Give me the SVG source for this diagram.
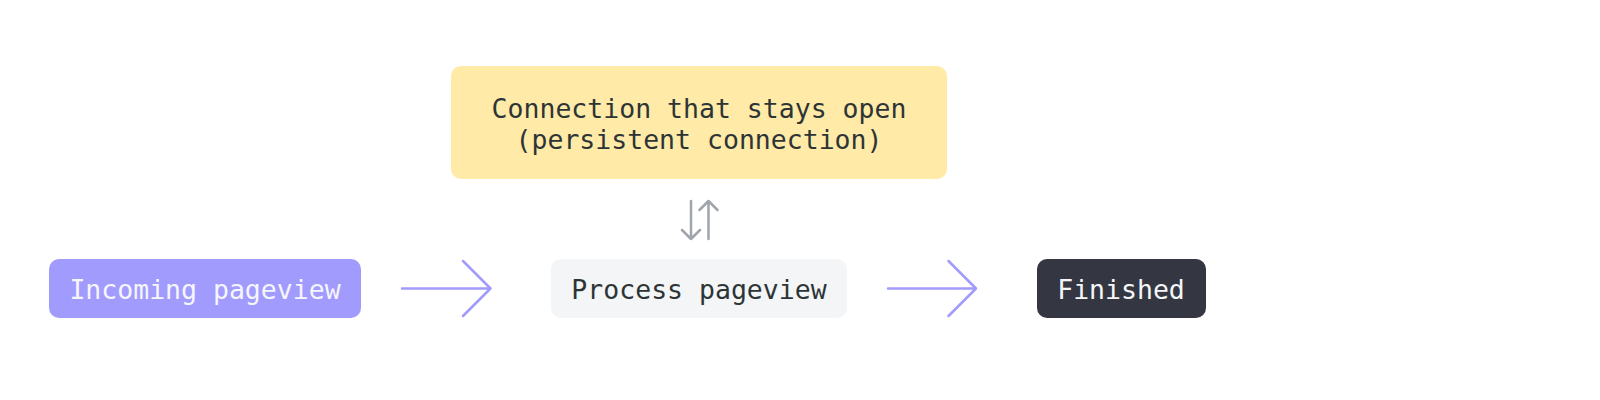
<svg xmlns="http://www.w3.org/2000/svg" width="1600" height="400" viewBox="0 0 1600 400">
<defs>
<style>
.lbl{font-family:"DejaVu Sans Mono","Liberation Mono",monospace;font-size:26.5px;text-anchor:middle}
.dark{fill:#2d3436}
.light{fill:#f5f6fa}
.flow{fill:none;stroke:#a29bfe;stroke-width:2.5;stroke-linecap:round;stroke-linejoin:round}
.bi{fill:none;stroke:#a0a4ab;stroke-width:2.5;stroke-linecap:round;stroke-linejoin:round}
</style>
</defs>
<rect width="1600" height="400" fill="#ffffff"/>
<g id="node-connection">
<rect x="451" y="66" width="496" height="113" rx="10" fill="#ffeaa7"/>
<text class="lbl dark" x="699" y="118">Connection that stays open</text>
<text class="lbl dark" x="699" y="149">(persistent connection)</text>
</g>
<g id="node-incoming">
<rect x="49" y="259" width="312" height="59" rx="10" fill="#a29bfe"/>
<text class="lbl light" x="205" y="299">Incoming pageview</text>
</g>
<g id="node-process">
<rect x="551" y="259" width="296" height="59" rx="10" fill="#f4f5f7"/>
<text class="lbl dark" x="699" y="299">Process pageview</text>
</g>
<g id="node-finished">
<rect x="1037" y="259" width="169" height="59" rx="10" fill="#343741"/>
<text class="lbl light" x="1121" y="299">Finished</text>
</g>
<g id="connectors">
<path class="flow" d="M402 288.5 H490 M463 261 L490.5 288.5 L463 316"/>
<path class="flow" d="M888 288.5 H976 M948.5 261 L976 288.5 L948.5 316"/>
<path class="bi" d="M691 201 V239 M682 230 L691 239 L700 230"/>
<path class="bi" d="M708.5 239 V201 M699.5 210 L708.5 201 L717.5 210"/>
</g>
</svg>
